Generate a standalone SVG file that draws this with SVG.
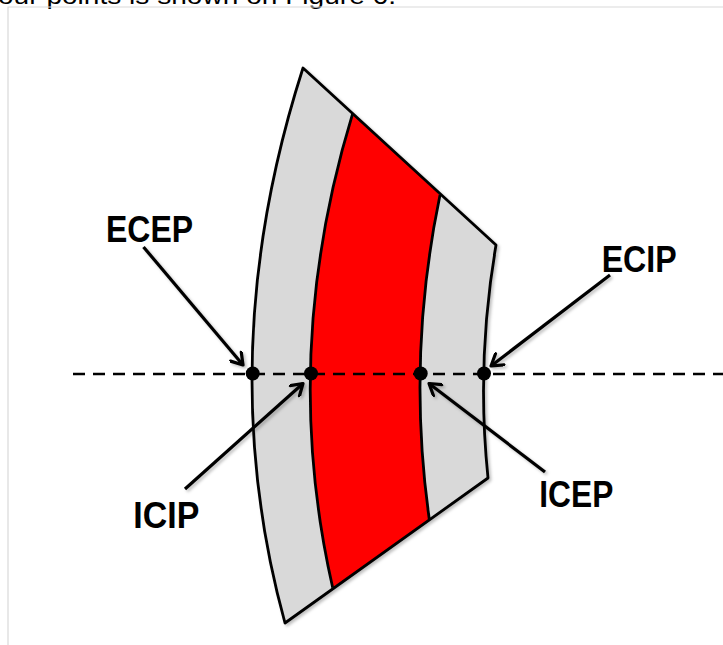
<svg xmlns="http://www.w3.org/2000/svg" width="723" height="645" viewBox="0 0 723 645">
<style>
.edge{fill:none;stroke:#000;stroke-width:2.8;stroke-linejoin:round}
.arr{fill:none;stroke:#000;stroke-width:3.2;marker-end:url(#head)}
.lbl{font-family:"Liberation Sans",Arial,sans-serif;font-weight:bold;font-size:36px;fill:#000}
.dot{fill:#000}
</style>
<defs>
<marker id="head" markerWidth="16" markerHeight="16" refX="13" refY="8" orient="auto" markerUnits="userSpaceOnUse">
<path d="M2,1 L13,8 L2,15" fill="none" stroke="#000" stroke-width="3.2" stroke-linecap="round" stroke-linejoin="round"/>
</marker>
<filter id="sh" x="-10%" y="-10%" width="130%" height="130%">
<feDropShadow dx="2" dy="2" stdDeviation="1.5" flood-color="#000" flood-opacity="0.25"/>
</filter>
</defs>
<rect width="723" height="645" fill="#fff"/>
<text x="-2" y="4" font-family="Liberation Sans,Arial,sans-serif" font-size="23" textLength="398" lengthAdjust="spacingAndGlyphs">our points is shown on Figure 6.</text>
<path d="M8,645 V7 H723" fill="none" stroke="#d9d9d9" stroke-width="1.2"/>
<g id="ring" filter="url(#sh)">
<path d="M303,68 L496,245 Q476,362 488,478 L285,623 Q211,354.5 303,68 Z" fill="#d9d9d9"/>
<path d="M352.7,113.3 L440,195 Q406.3,357 429.3,519.3 L332.7,587.7 Q279.3,353.5 352.7,113.3 Z" fill="#ff0000"/>
<path class="edge" d="M303,68 L496,245 Q476,362 488,478 L285,623 Q211,354.5 303,68 Z"/>
<path class="edge" d="M352.7,113.3 Q279.3,353.5 332.7,587.7"/>
<path class="edge" d="M440,195 Q406.3,357 429.3,519.3"/>
</g>
<g id="axis">
<line x1="73" y1="374" x2="723" y2="374" stroke="#000" stroke-width="2.7" stroke-dasharray="12 8"/>
</g>
<g id="points">
<circle id="p-ecep" class="dot" cx="252.7" cy="373.5" r="7"/>
<circle id="p-icip" class="dot" cx="311" cy="373.5" r="7"/>
<circle id="p-icep" class="dot" cx="420.7" cy="373.5" r="7"/>
<circle id="p-ecip" class="dot" cx="484" cy="373.5" r="7"/>
</g>
<g id="connectors" filter="url(#sh)">
<line class="arr" x1="143.5" y1="247" x2="243" y2="365"/>
<line class="arr" x1="610" y1="275" x2="491" y2="366"/>
<line class="arr" x1="185" y1="489" x2="303" y2="383.5"/>
<line class="arr" x1="545" y1="472" x2="429" y2="383.5"/>
</g>
<g id="ECEP"><text class="lbl" x="106" y="241.7" textLength="87" lengthAdjust="spacingAndGlyphs">ECEP</text></g>
<g id="ECIP"><text class="lbl" x="601.7" y="271.7" textLength="75" lengthAdjust="spacingAndGlyphs">ECIP</text></g>
<g id="ICIP"><text class="lbl" x="133.3" y="528.3" textLength="66" lengthAdjust="spacingAndGlyphs">ICIP</text></g>
<g id="ICEP"><text class="lbl" x="539.3" y="506.7" textLength="74" lengthAdjust="spacingAndGlyphs">ICEP</text></g>
</svg>
